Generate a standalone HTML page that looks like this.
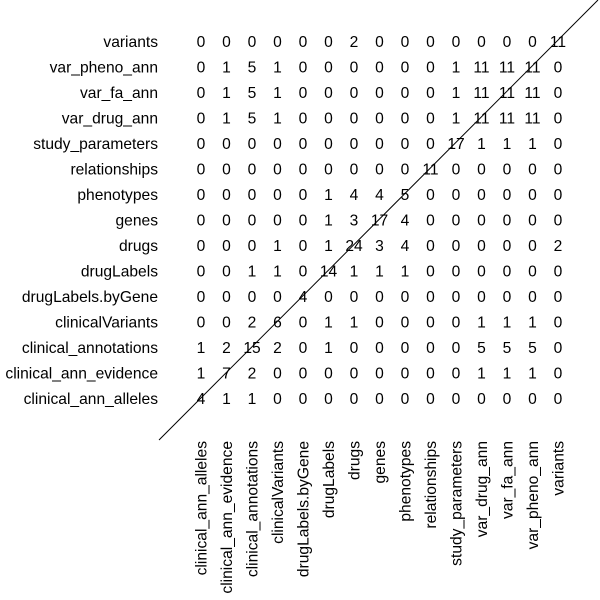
<!DOCTYPE html>
<html><head><meta charset="utf-8"><style>
html,body{margin:0;padding:0;background:#fff;}
svg{display:block;font-family:"Liberation Sans",sans-serif;font-size:15.6px;fill:#000;}
</style></head><body>
<svg id="chart" width="600" height="600"></svg>
<script>
const rowNames = ["variants","var_pheno_ann","var_fa_ann","var_drug_ann","study_parameters","relationships","phenotypes","genes","drugs","drugLabels","drugLabels.byGene","clinicalVariants","clinical_annotations","clinical_ann_evidence","clinical_ann_alleles"];
const colNames = ["clinical_ann_alleles","clinical_ann_evidence","clinical_annotations","clinicalVariants","drugLabels.byGene","drugLabels","drugs","genes","phenotypes","relationships","study_parameters","var_drug_ann","var_fa_ann","var_pheno_ann","variants"];
const cellValues = [
[0,0,0,0,0,0,2,0,0,0,0,0,0,0,11],
[0,1,5,1,0,0,0,0,0,0,1,11,11,11,0],
[0,1,5,1,0,0,0,0,0,0,1,11,11,11,0],
[0,1,5,1,0,0,0,0,0,0,1,11,11,11,0],
[0,0,0,0,0,0,0,0,0,0,17,1,1,1,0],
[0,0,0,0,0,0,0,0,0,11,0,0,0,0,0],
[0,0,0,0,0,1,4,4,5,0,0,0,0,0,0],
[0,0,0,0,0,1,3,17,4,0,0,0,0,0,0],
[0,0,0,1,0,1,24,3,4,0,0,0,0,0,2],
[0,0,1,1,0,14,1,1,1,0,0,0,0,0,0],
[0,0,0,0,4,0,0,0,0,0,0,0,0,0,0],
[0,0,2,6,0,1,1,0,0,0,0,1,1,1,0],
[1,2,15,2,0,1,0,0,0,0,0,5,5,5,0],
[1,7,2,0,0,0,0,0,0,0,0,1,1,1,0],
[4,1,1,0,0,0,0,0,0,0,0,0,0,0,0]
];
const NS="http://www.w3.org/2000/svg";
const svg=document.getElementById('chart');
const x0=201, x1=558, y0=41.4, y1=398.5;
function xPos(i){return x0+(x1-x0)*i/(colNames.length-1);}
function yPos(j){return y0+(y1-y0)*j/(rowNames.length-1);}
function mk(tag,attrs){const e=document.createElementNS(NS,tag);for(const k in attrs)e.setAttribute(k,attrs[k]);return e;}
rowNames.forEach((n,j)=>{
  const t=mk('text',{x:158,y:yPos(j)+5.5,'text-anchor':'end'});
  t.textContent=n;
  
  
  svg.appendChild(t);
});
colNames.forEach((n,i)=>{
  const x=xPos(i)+5.5;
  const t=mk('text',{x:x,y:441,'text-anchor':'end',transform:'rotate(-90 '+x+' 441)'});
  t.textContent=n;
  
  
  svg.appendChild(t);
});
cellValues.forEach((row,j)=>{
  row.forEach((v,i)=>{
    const t=mk('text',{x:xPos(i),y:yPos(j)+5.5,'text-anchor':'middle'});
    t.textContent=v;
    
    
    svg.appendChild(t);
  });
});
const ln=mk('line',{x1:159,y1:440,x2:598,y2:0,stroke:'#000','stroke-width':1});


svg.appendChild(ln);
</script>
</body></html>
